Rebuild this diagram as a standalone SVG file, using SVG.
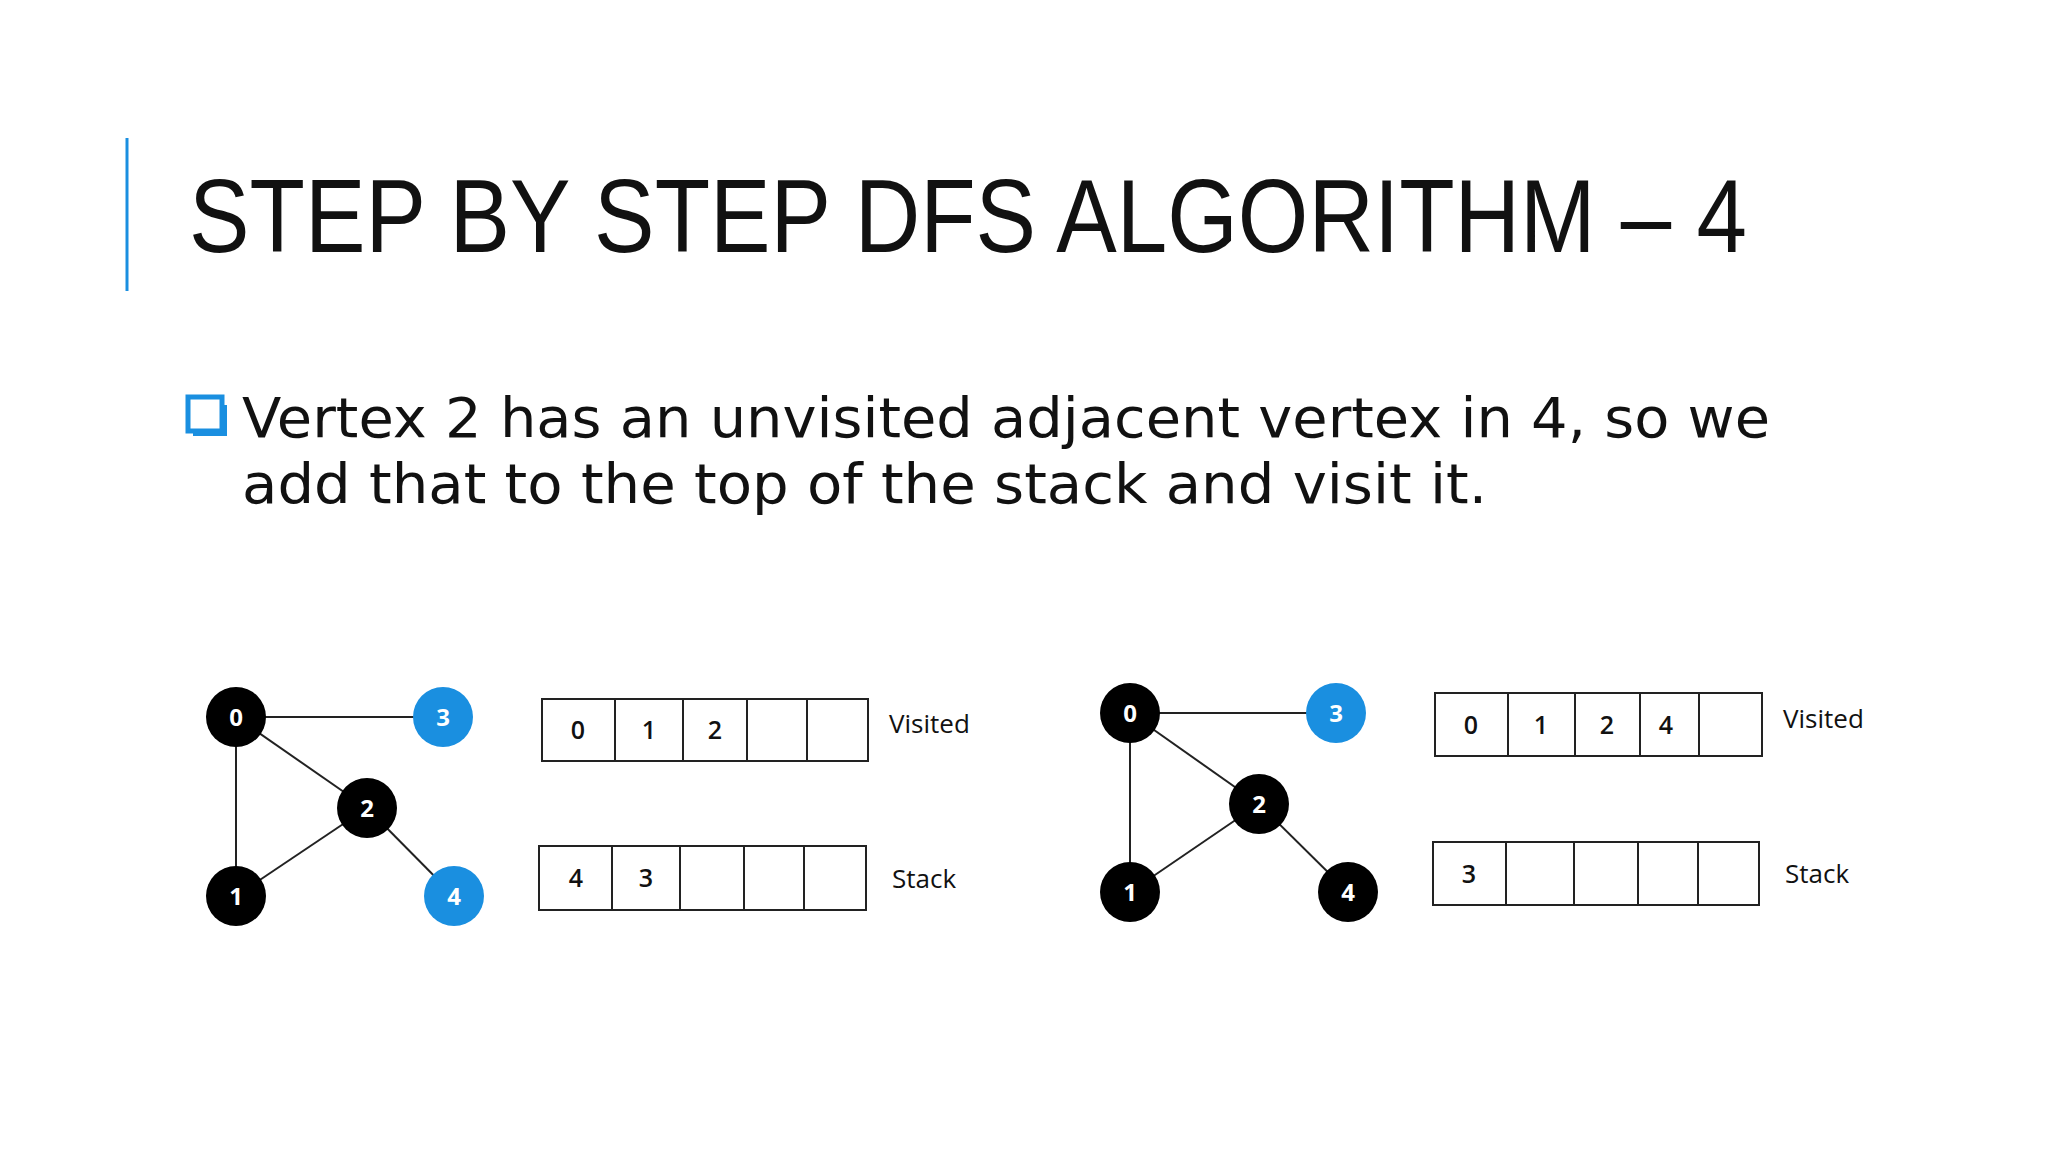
<svg xmlns="http://www.w3.org/2000/svg" width="2048" height="1152" viewBox="0 0 2048 1152">
<style>
.e{stroke:#222;stroke-width:2;fill:none}
.b{fill:#000}.u{fill:#1a8fe0}
.nl{font-family:"Open Sans","DejaVu Sans",sans-serif;font-weight:bold;font-size:24px;fill:#fff;text-anchor:middle}
.cell{fill:#fff;stroke:#222;stroke-width:2}
.ct{font-family:"Open Sans","DejaVu Sans",sans-serif;font-weight:600;font-size:25px;fill:#111;text-anchor:middle}
.lb{font-family:"Open Sans","DejaVu Sans",sans-serif;font-size:26px;fill:#111}
</style>
<rect width="2048" height="1152" fill="#fff"/>
<line x1="127" y1="138" x2="127" y2="291" stroke="#1a8fe0" stroke-width="3"/>
<text x="189" y="252" font-family="Liberation Sans Narrow,Liberation Sans,sans-serif" font-size="104" fill="#111" textLength="1558" lengthAdjust="spacingAndGlyphs">STEP BY STEP DFS ALGORITHM – 4</text>
<g id="bullet">
<rect x="188" y="397" width="34" height="34" fill="#fff" stroke="#1a8fe0" stroke-width="5"/>
<rect x="222" y="405" width="5" height="30" fill="#1a8fe0"/><rect x="193" y="431" width="34" height="5" fill="#1a8fe0"/>
</g>
<g font-family="DejaVu Sans,sans-serif" font-size="56" fill="#111">
<text x="242" y="437" textLength="1528" lengthAdjust="spacingAndGlyphs">Vertex 2 has an unvisited adjacent vertex in 4, so we</text>
<text x="242" y="503" textLength="1245" lengthAdjust="spacingAndGlyphs">add that to the top of the stack and visit it.</text>
</g>
<g id="connectors">
<line class="e" x1="236" y1="717" x2="443" y2="717"/><line class="e" x1="236" y1="717" x2="367" y2="808"/>
<line class="e" x1="236" y1="717" x2="236" y2="896"/><line class="e" x1="236" y1="896" x2="367" y2="808"/>
<line class="e" x1="367" y1="808" x2="454" y2="896"/>
<line class="e" x1="1130" y1="713" x2="1336" y2="713"/><line class="e" x1="1130" y1="713" x2="1259" y2="804"/>
<line class="e" x1="1130" y1="713" x2="1130" y2="892"/><line class="e" x1="1130" y1="892" x2="1259" y2="804"/>
<line class="e" x1="1259" y1="804" x2="1348" y2="892"/>
</g>
<g id="L0"><circle class="b" cx="236" cy="717" r="30"/><text class="nl" x="236" y="726">0</text></g>
<g id="L3"><circle class="u" cx="443" cy="717" r="30"/><text class="nl" x="443" y="726">3</text></g>
<g id="L2"><circle class="b" cx="367" cy="808" r="30"/><text class="nl" x="367" y="817">2</text></g>
<g id="L1"><circle class="b" cx="236" cy="896" r="30"/><text class="nl" x="236" y="905">1</text></g>
<g id="L4"><circle class="u" cx="454" cy="896" r="30"/><text class="nl" x="454" y="905">4</text></g>
<g id="R0"><circle class="b" cx="1130" cy="713" r="30"/><text class="nl" x="1130" y="722">0</text></g>
<g id="R3"><circle class="u" cx="1336" cy="713" r="30"/><text class="nl" x="1336" y="722">3</text></g>
<g id="R2"><circle class="b" cx="1259" cy="804" r="30"/><text class="nl" x="1259" y="813">2</text></g>
<g id="R1"><circle class="b" cx="1130" cy="892" r="30"/><text class="nl" x="1130" y="901">1</text></g>
<g id="R4"><circle class="b" cx="1348" cy="892" r="30"/><text class="nl" x="1348" y="901">4</text></g>
<g id="Lvisited">
<rect class="cell" x="542" y="699" width="326" height="62"/>
<line class="e" x1="615" y1="699" x2="615" y2="761"/><line class="e" x1="683" y1="699" x2="683" y2="761"/><line class="e" x1="747" y1="699" x2="747" y2="761"/><line class="e" x1="807" y1="699" x2="807" y2="761"/>
<text class="ct" x="578" y="739">0</text><text class="ct" x="649" y="739">1</text><text class="ct" x="715" y="739">2</text>
<text class="lb" x="889" y="733">Visited</text>
</g>
<g id="Lstack">
<rect class="cell" x="539" y="846" width="327" height="64"/>
<line class="e" x1="612" y1="846" x2="612" y2="910"/><line class="e" x1="680" y1="846" x2="680" y2="910"/><line class="e" x1="744" y1="846" x2="744" y2="910"/><line class="e" x1="804" y1="846" x2="804" y2="910"/>
<text class="ct" x="576" y="887">4</text><text class="ct" x="646" y="887">3</text>
<text class="lb" x="892" y="888">Stack</text>
</g>
<g id="Rvisited">
<rect class="cell" x="1435" y="693" width="327" height="63"/>
<line class="e" x1="1508" y1="693" x2="1508" y2="756"/><line class="e" x1="1575" y1="693" x2="1575" y2="756"/><line class="e" x1="1640" y1="693" x2="1640" y2="756"/><line class="e" x1="1699" y1="693" x2="1699" y2="756"/>
<text class="ct" x="1471" y="734">0</text><text class="ct" x="1541" y="734">1</text><text class="ct" x="1607" y="734">2</text><text class="ct" x="1666" y="734">4</text>
<text class="lb" x="1783" y="728">Visited</text>
</g>
<g id="Rstack">
<rect class="cell" x="1433" y="842" width="326" height="63"/>
<line class="e" x1="1506" y1="842" x2="1506" y2="905"/><line class="e" x1="1574" y1="842" x2="1574" y2="905"/><line class="e" x1="1638" y1="842" x2="1638" y2="905"/><line class="e" x1="1698" y1="842" x2="1698" y2="905"/>
<text class="ct" x="1469" y="883">3</text>
<text class="lb" x="1785" y="883">Stack</text>
</g>
</svg>
